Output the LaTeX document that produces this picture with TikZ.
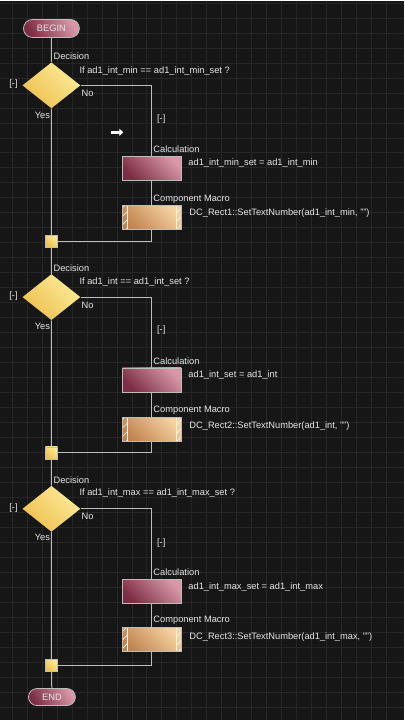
\documentclass[tikz,border=0pt]{standalone}
\usepackage{fontspec}
\setmainfont{Liberation Sans}
\definecolor{canvasbg}{HTML}{161616}
\definecolor{gridgrey}{HTML}{262626}
\definecolor{wiregrey}{HTML}{BDBDBD}
\definecolor{inkgrey}{HTML}{E6E6E6}
\definecolor{roselight}{HTML}{D898A8}
\definecolor{rosedark}{HTML}{7C2C44}
\definecolor{tanlight}{HTML}{F6D2A2}
\definecolor{tandark}{HTML}{C08450}
\definecolor{goldlight}{HTML}{FCEA98}
\definecolor{golddark}{HTML}{EEC050}
\usetikzlibrary{arrows.meta,shapes.geometric,shapes.misc,patterns.meta}

\begin{document}
\begin{tikzpicture}[x=1pt,y=-1pt,
    txt/.style={font=\fontsize{9.3}{10}\selectfont,text=inkgrey,inner sep=0pt},
    lbl/.style={txt,anchor=west},
    pill/.style={rounded rectangle,draw=wiregrey,line width=0.8pt,
                 top color=roselight,bottom color=rosedark,shading angle=-60,
                 font=\fontsize{9.3}{10}\selectfont,text=inkgrey,inner sep=0pt},
    decide/.style={diamond,inner sep=0pt,minimum width=58pt,minimum height=46pt,
                   top color=goldlight,bottom color=golddark,shading angle=-45},
    calcbox/.style={rectangle,draw=wiregrey,line width=0.8pt,
                    top color=roselight,bottom color=rosedark,shading angle=-45,
                    minimum width=59pt,minimum height=24pt,inner sep=0pt},
    macrobox/.style={rectangle,draw=wiregrey,line width=0.8pt,
                     top color=tanlight,bottom color=tandark,shading angle=-45,
                     minimum width=59pt,minimum height=24pt,inner sep=0pt,
                     path picture={
                       \fill[pattern={Lines[angle=45,distance=6pt,line width=0.6pt]},
                             pattern color=white!80!tanlight]
                         (path picture bounding box.north west) rectangle
                         ([xshift=5pt]path picture bounding box.south west)
                         (path picture bounding box.north east) rectangle
                         ([xshift=-5pt]path picture bounding box.south east);
                       \draw[white!70!tanlight,line width=0.6pt]
                         ([xshift=5pt]path picture bounding box.north west) --
                         ([xshift=5pt]path picture bounding box.south west)
                         ([xshift=-5pt]path picture bounding box.north east) --
                         ([xshift=-5pt]path picture bounding box.south east);}},
    joint/.style={rectangle,draw=wiregrey,line width=0.6pt,
                  top color=goldlight,bottom color=golddark,shading angle=-45,
                  minimum size=12pt,inner sep=0pt},
    wire/.style={draw=wiregrey,line width=1pt}]

  % canvas
  \fill[canvasbg] (0,0) rectangle (404,720);
  \foreach \gx in {11.7,26.7,...,400}
    \draw[gridgrey,line width=1pt] (\gx,0) -- (\gx,720);
  \foreach \gy in {2.7,17.7,...,720}
    \draw[gridgrey,line width=1pt] (0,\gy) -- (404,\gy);

  \node[pill,minimum width=56pt,minimum height=18pt] (b) at (51,28) {BEGIN};

  % first test
  \node[decide] (d1) at (51,85) {};
  \node[lbl] at (53,56) {Decision};
  \node[lbl] at (79,71) {If ad1\_int\_min == ad1\_int\_min\_set ?};
  \node[txt] at (13,84) {[-]};
  \node[lbl] at (81,93) {No};
  \node[txt] at (42,115) {Yes};
  \node[txt] at (161,119) {[-]};
  \draw[-{Triangle[length=4pt,width=7pt]},white,line width=2.5pt] (111,132) -- (123,132);
  \node[lbl] at (153,149) {Calculation};
  \node[calcbox] (c1) at (151.5,168) {};
  \node[lbl] at (188,163) {ad1\_int\_min\_set = ad1\_int\_min};
  \node[lbl] at (153,199) {Component Macro};
  \node[macrobox] (m1) at (151.5,217.5) {};
  \node[lbl] at (189,213) {DC\_Rect1::SetTextNumber(ad1\_int\_min, "")};
  \node[joint] (j1) at (51,241) {};

  % second test
  \node[decide] (d2) at (51,297) {};
  \node[lbl] at (53,268) {Decision};
  \node[lbl] at (79,282) {If ad1\_int == ad1\_int\_set ?};
  \node[txt] at (13,296) {[-]};
  \node[lbl] at (81,305) {No};
  \node[txt] at (42,326) {Yes};
  \node[txt] at (161,330) {[-]};
  \node[lbl] at (153,361) {Calculation};
  \node[calcbox] (c2) at (151.5,380) {};
  \node[lbl] at (188,375) {ad1\_int\_set = ad1\_int};
  \node[lbl] at (153,410) {Component Macro};
  \node[macrobox] (m2) at (151.5,429.5) {};
  \node[lbl] at (189,426) {DC\_Rect2::SetTextNumber(ad1\_int, "")};
  \node[joint] (j2) at (51,453) {};

  % third test
  \node[decide] (d3) at (51,509) {};
  \node[lbl] at (53,480) {Decision};
  \node[lbl] at (79,493) {If ad1\_int\_max == ad1\_int\_max\_set ?};
  \node[txt] at (13,508) {[-]};
  \node[lbl] at (81,517) {No};
  \node[txt] at (42,538) {Yes};
  \node[txt] at (161,543) {[-]};
  \node[lbl] at (153,572) {Calculation};
  \node[calcbox] (c3) at (151.5,591.5) {};
  \node[lbl] at (188,587) {ad1\_int\_max\_set = ad1\_int\_max};
  \node[lbl] at (153,621) {Component Macro};
  \node[macrobox] (m3) at (151.5,640) {};
  \node[lbl] at (189,637) {DC\_Rect3::SetTextNumber(ad1\_int\_max, "")};
  \node[joint] (j3) at (51,666) {};

  \node[pill,minimum width=47pt,minimum height=17pt] (e) at (51.5,697.5) {END};

  % wiring
  \draw[wire] (b) -- (d1) -- (j1) -- (d2) -- (j2) -- (d3) -- (j3) -- (e);
  \draw[wire] (d1.east) -| (c1.north) (c1) -- (m1) (m1.south) |- (j1.east);
  \draw[wire] (d2.east) -| (c2.north) (c2) -- (m2) (m2.south) |- (j2.east);
  \draw[wire] (d3.east) -| (c3.north) (c3) -- (m3) (m3.south) |- (j3.east);
\end{tikzpicture}
\end{document}
